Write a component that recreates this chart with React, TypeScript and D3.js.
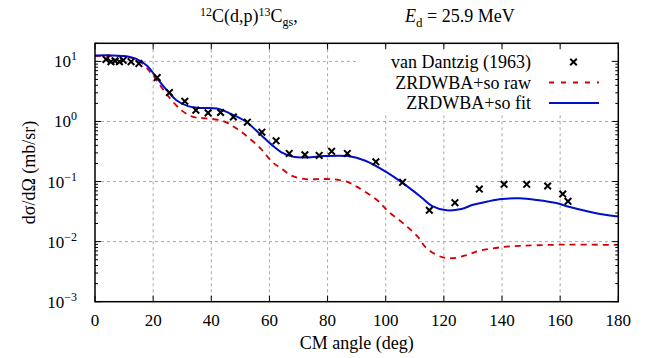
import React, { useEffect, useRef } from 'react';
import * as d3 from 'd3';

// van Dantzig (1963) measured points
const vdAngle = [3.8, 5.5, 6.9, 8.4, 9.7, 12.4, 15.1, 21.4, 25.6, 30.9, 34.7, 38.9, 43.2, 47.6, 52.4, 57.4, 62.3, 66.8, 72.2, 77.1, 81.4, 86.8, 96.6, 105.8, 115.0, 123.8, 132.2, 140.7, 148.5, 155.7, 160.9, 162.7];
const vdValue = [10.8, 9.9, 10.2, 9.9, 10.4, 9.9, 9.2, 5.38, 3.03, 2.17, 1.54, 1.39, 1.41, 1.19, 0.973, 0.664, 0.476, 0.294, 0.279, 0.272, 0.318, 0.294, 0.213, 0.097, 0.0333, 0.0445, 0.075, 0.0898, 0.0898, 0.0842, 0.0619, 0.0469];

// ZRDWBA+so fit (solid blue)
const fitAngle = [0, 5, 10, 14, 18, 21, 25, 28, 32, 36, 42, 46, 52, 57, 61, 64, 68, 73, 79, 87, 93, 100, 106, 112, 116, 121, 126, 130, 135, 140, 146, 152, 159, 163, 170, 176, 180];
const fitValue = [12.5, 12.6, 12.3, 11.1, 8.4, 5.5, 3.2, 2.26, 1.8, 1.68, 1.64, 1.39, 0.99, 0.6, 0.4, 0.31, 0.26, 0.252, 0.265, 0.265, 0.222, 0.146, 0.093, 0.056, 0.039, 0.0332, 0.0349, 0.041, 0.0465, 0.0512, 0.0526, 0.0493, 0.0434, 0.0381, 0.0315, 0.0277, 0.0262];

// ZRDWBA+so raw (dashed red)
const rawAngle = [0, 5, 10, 15, 20, 25, 30, 34, 38, 44, 48, 52, 57, 61, 64, 68, 73, 77, 82, 87, 91, 97, 101, 106, 111, 114, 119, 123, 128, 132, 140, 146, 152, 160, 169, 180];
const rawValue = [12.3, 12.4, 12.0, 10.3, 5.8, 2.7, 1.5, 1.18, 1.13, 1.02, 0.8, 0.58, 0.353, 0.211, 0.166, 0.123, 0.109, 0.11, 0.109, 0.098, 0.077, 0.0493, 0.0315, 0.0202, 0.0121, 0.0078, 0.0056, 0.0053, 0.006, 0.007, 0.0081, 0.0085, 0.0087, 0.0089, 0.0089, 0.0088];

const xTicks = [0, 20, 40, 60, 80, 100, 120, 140, 160, 180];
const yExponents = [-3, -2, -1, 0, 1];
const legendLabels = ['van Dantzig (1963)', 'ZRDWBA+so raw', 'ZRDWBA+so fit'];

const FONT = "'Liberation Serif', 'Times New Roman', serif";

const App: React.FC = () => {
  const svgRef = useRef<SVGSVGElement>(null);

  useEffect(() => {
    if (!svgRef.current) return;
    d3.select(svgRef.current).selectAll('*').remove();

    const W = 654, H = 358;
    const left = 95, right = 618.3, top = 43.3, bottom = 301.7;

    const svg = d3.select(svgRef.current)
      .attr('width', W)
      .attr('height', H)
      .attr('font-family', FONT);

    const x = d3.scaleLinear().domain([0, 180]).range([left, right]);
    const y = d3.scaleLog().domain([1e-3, 20]).range([bottom, top]);

    const text = (parent: any) => parent.append('text').attr('font-family', FONT).attr('fill', '#000');

    // grid
    const grid = svg.append('g')
      .attr('stroke', '#a8a8a8')
      .attr('stroke-width', 1)
      .attr('stroke-dasharray', '3,3');
    xTicks.slice(1, -1).forEach(t => {
      grid.append('line')
        .attr('x1', x(t)).attr('x2', x(t))
        .attr('y1', top).attr('y2', bottom);
    });
    yExponents.slice(1).forEach(e => {
      grid.append('line')
        .attr('x1', left).attr('x2', right)
        .attr('y1', y(Math.pow(10, e))).attr('y2', y(Math.pow(10, e)));
    });

    const clip = svg.append('defs').append('clipPath').attr('id', 'plot-clip');
    clip.append('rect')
      .attr('x', left).attr('y', top)
      .attr('width', right - left).attr('height', bottom - top);

    const plot = svg.append('g').attr('clip-path', 'url(#plot-clip)');

    const line = d3.line<[number, number]>()
      .x(d => x(d[0]))
      .y(d => y(d[1]))
      .curve(d3.curveCatmullRom.alpha(0.5));

    plot.append('path')
      .datum(rawAngle.map((a, i) => [a, rawValue[i]] as [number, number]))
      .attr('fill', 'none')
      .attr('stroke', '#d40000')
      .attr('stroke-width', 1.8)
      .attr('stroke-dasharray', '6,5')
      .attr('d', line);

    plot.append('path')
      .datum(fitAngle.map((a, i) => [a, fitValue[i]] as [number, number]))
      .attr('fill', 'none')
      .attr('stroke', '#0010c8')
      .attr('stroke-width', 2)
      .attr('d', line);

    const cross = (g: any, cx: number, cy: number) => {
      const s = 3.3;
      g.append('path')
        .attr('d', `M${cx - s},${cy - s}L${cx + s},${cy + s}M${cx - s},${cy + s}L${cx + s},${cy - s}`)
        .attr('stroke', '#000')
        .attr('stroke-width', 2)
        .attr('fill', 'none');
    };

    const pts = plot.append('g');
    vdAngle.forEach((a, i) => cross(pts, x(a), y(vdValue[i])));

    // legend (opaque key)
    svg.append('rect')
      .attr('x', 357).attr('y', 47)
      .attr('width', 254).attr('height', 65)
      .attr('fill', '#fff');

    const legendY = [62, 82.5, 103];
    legendLabels.forEach((lab, i) => {
      text(svg)
        .attr('x', 531)
        .attr('y', legendY[i] + 6)
        .attr('text-anchor', 'end')
        .attr('font-size', 18)
        .text(lab);
    });
    cross(svg.append('g'), 573.5, legendY[0]);
    svg.append('line')
      .attr('x1', 549).attr('x2', 599)
      .attr('y1', legendY[1]).attr('y2', legendY[1])
      .attr('stroke', '#d40000').attr('stroke-width', 1.8)
      .attr('stroke-dasharray', '5,7');
    svg.append('line')
      .attr('x1', 549).attr('x2', 599)
      .attr('y1', legendY[2]).attr('y2', legendY[2])
      .attr('stroke', '#0010c8').attr('stroke-width', 2);

    // ticks
    const ticks = svg.append('g').attr('stroke', '#000').attr('stroke-width', 1);
    xTicks.forEach(t => {
      ticks.append('line').attr('x1', x(t)).attr('x2', x(t)).attr('y1', bottom).attr('y2', bottom - 6);
      ticks.append('line').attr('x1', x(t)).attr('x2', x(t)).attr('y1', top).attr('y2', top + 6);
    });
    yExponents.forEach(e => {
      const base = Math.pow(10, e);
      ticks.append('line').attr('x1', left).attr('x2', left + 6).attr('y1', y(base)).attr('y2', y(base));
      ticks.append('line').attr('x1', right).attr('x2', right - 6).attr('y1', y(base)).attr('y2', y(base));
      for (let m = 2; m <= 9; m++) {
        const v = base * m;
        if (v > 20) break;
        ticks.append('line').attr('x1', left).attr('x2', left + 3).attr('y1', y(v)).attr('y2', y(v));
        ticks.append('line').attr('x1', right).attr('x2', right - 3).attr('y1', y(v)).attr('y2', y(v));
      }
    });

    // border
    svg.append('rect')
      .attr('x', left).attr('y', top)
      .attr('width', right - left).attr('height', bottom - top)
      .attr('fill', 'none')
      .attr('stroke', '#000')
      .attr('stroke-width', 1.5);

    // x tick labels
    xTicks.forEach(t => {
      text(svg)
        .attr('x', x(t))
        .attr('y', 326)
        .attr('text-anchor', 'middle')
        .attr('font-size', 17)
        .text(t);
    });

    // y tick labels
    yExponents.forEach(e => {
      const tx = text(svg)
        .attr('x', 77)
        .attr('y', y(Math.pow(10, e)) + 6)
        .attr('text-anchor', 'end')
        .attr('font-size', 17);
      tx.append('tspan').text('10');
      tx.append('tspan')
        .attr('dy', -7)
        .attr('font-size', 12)
        .text(e < 0 ? `\u2212${-e}` : `${e}`);
    });

    // axis labels
    text(svg)
      .attr('x', (left + right) / 2)
      .attr('y', 349)
      .attr('text-anchor', 'middle')
      .attr('font-size', 18)
      .text('CM angle (deg)');

    text(svg)
      .attr('transform', `translate(35, ${(top + bottom) / 2}) rotate(-90)`)
      .attr('text-anchor', 'middle')
      .attr('font-size', 18)
      .text('d\u03c3/d\u03a9 (mb/sr)');

    // title
    const title = text(svg)
      .attr('x', 200)
      .attr('y', 22)
      .attr('font-size', 18);
    title.append('tspan').attr('dy', -6).attr('font-size', 12).text('12');
    title.append('tspan').attr('dy', 6).text('C(d,p)');
    title.append('tspan').attr('dy', -6).attr('font-size', 12).text('13');
    title.append('tspan').attr('dy', 6).text('C');
    title.append('tspan').attr('dy', 4).attr('font-size', 12).text('gs');
    title.append('tspan').attr('dy', -4).text(',');

    const title2 = text(svg)
      .attr('x', 405)
      .attr('y', 22)
      .attr('font-size', 18);
    title2.append('tspan').attr('font-style', 'italic').text('E');
    title2.append('tspan').attr('dy', 5).attr('font-size', 13).text('d');
    title2.append('tspan').attr('dy', -5).text(' = 25.9 MeV');
  }, []);

  return (
    <div>
      <svg ref={svgRef} style={{ position: 'absolute', left: 0, top: 0, background: '#fff' }}></svg>
    </div>
  );
};

export default App;
